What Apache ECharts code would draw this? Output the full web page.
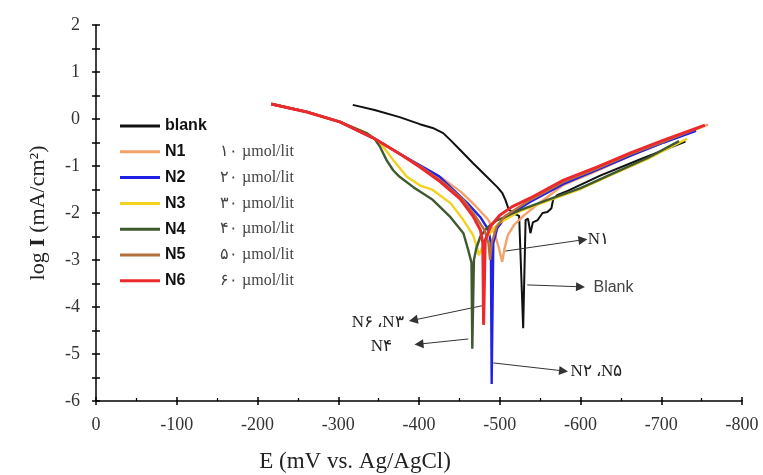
<!DOCTYPE html>
<html><head><meta charset="utf-8">
<script src="https://cdn.jsdelivr.net/npm/echarts@6/dist/echarts.min.js"></script>
<style>html,body{margin:0;padding:0;background:#fff}#c{width:763px;height:475px}</style>
</head><body><div id="c"></div>
<script>
// ---- data (E in mV vs Ag/AgCl, log I) ----
const seriesNames = ['blank', 'N1', 'N2', 'N3', 'N4', 'N5', 'N6'];
const concLabels = ['', '۱۰ µmol/lit', '۲۰ µmol/lit', '۳۰ µmol/lit', '۴۰ µmol/lit', '۵۰ µmol/lit', '۶۰ µmol/lit'];
const seriesColors = ['#111111', '#f4a26a', '#1f22e6', '#f2d21f', '#3f5a30', '#b4703c', '#ec2a2e'];

const blankData = [[-318,0.30],[-345,0.19],[-376,0.04],[-401,-0.11],[-417,-0.19],[-430,-0.30],[-439,-0.45],[-451,-0.66],[-467,-0.94],[-484,-1.23],[-497,-1.45],[-503,-1.57],[-507,-1.72],[-511,-1.92],[-518,-2.02],[-524,-2.06],[-529,-4.45],[-532,-2.15],[-535,-2.12],[-538,-2.43],[-541,-2.20],[-547,-2.15],[-553,-2.00],[-559,-1.98],[-564,-1.90],[-566,-1.72],[-571,-1.62],[-584,-1.53],[-625,-1.20],[-675,-0.85],[-730,-0.48]];
const n1Data = [[-217,0.32],[-261,0.15],[-302,-0.06],[-343,-0.40],[-377,-0.75],[-402,-1.00],[-428,-1.25],[-452,-1.55],[-470,-1.85],[-486,-2.15],[-494,-2.45],[-499,-2.75],[-503,-3.04],[-506,-2.75],[-510,-2.47],[-518,-2.25],[-530,-2.05],[-545,-1.84],[-579,-1.40],[-621,-1.10],[-662,-0.78],[-703,-0.50],[-758,-0.12]];
const n2Data = [[-217,0.32],[-261,0.15],[-302,-0.06],[-343,-0.40],[-377,-0.75],[-405,-1.02],[-425,-1.22],[-439,-1.45],[-460,-1.79],[-476,-2.09],[-486,-2.36],[-489,-2.64],[-490,-5.64],[-492,-2.64],[-497,-2.32],[-507,-2.09],[-538,-1.76],[-579,-1.38],[-621,-1.08],[-662,-0.78],[-703,-0.50],[-743,-0.25]];
const n3Data = [[-217,0.32],[-261,0.15],[-302,-0.06],[-335,-0.30],[-352,-0.51],[-368,-0.87],[-385,-1.23],[-402,-1.42],[-417,-1.51],[-439,-1.79],[-455,-2.15],[-467,-2.47],[-472,-2.74],[-474,-2.90],[-477,-2.79],[-486,-2.47],[-498,-2.23],[-525,-1.96],[-566,-1.70],[-600,-1.49],[-641,-1.17],[-683,-0.85],[-732,-0.42]];
const n4Data = [[-217,0.32],[-261,0.15],[-302,-0.06],[-335,-0.30],[-345,-0.42],[-352,-0.60],[-360,-0.88],[-368,-1.09],[-376,-1.23],[-393,-1.45],[-417,-1.72],[-439,-2.09],[-455,-2.43],[-461,-2.79],[-465,-3.06],[-466,-4.89],[-468,-3.00],[-471,-2.75],[-476,-2.50],[-484,-2.32],[-495,-2.17],[-525,-1.94],[-566,-1.68],[-600,-1.47],[-641,-1.15],[-683,-0.83],[-722,-0.47]];
const n5Data = [[-217,0.32],[-261,0.15],[-302,-0.06],[-343,-0.40],[-377,-0.75],[-403,-1.02],[-430,-1.35],[-455,-1.72],[-470,-2.07],[-481,-2.36],[-486,-2.64],[-488,-3.00],[-490,-2.64],[-496,-2.30],[-506,-2.07],[-538,-1.72],[-579,-1.34],[-621,-1.05],[-662,-0.75],[-703,-0.48],[-748,-0.18]];
const n6Data = [[-217,0.32],[-261,0.15],[-302,-0.06],[-343,-0.40],[-377,-0.75],[-401,-1.02],[-426,-1.33],[-451,-1.70],[-467,-2.07],[-476,-2.36],[-479,-2.64],[-480,-4.38],[-482,-2.58],[-489,-2.27],[-500,-2.05],[-515,-1.87],[-538,-1.68],[-579,-1.30],[-621,-1.02],[-662,-0.72],[-703,-0.45],[-754,-0.13]];
const allData = [blankData, n1Data, n2Data, n3Data, n4Data, n5Data, n6Data];

// annotations: [fromE, fromLogI, toE, toLogI, text]
const annotations = [
  [-507, -2.81, -603, -2.57, 'N۱'],
  [-534, -3.53, -600, -3.57, 'Blank'],
  [-492, -5.19, -579, -5.36, 'N۲ ،N۵'],
  [-482, -3.96, -393, -4.28, 'N۶ ،N۳'],
  [-461, -4.68, -400, -4.79, 'N۴']
];
const annotDistance = [5, 13, 7, 10, 27];

const chart = echarts.init(document.getElementById('c'), null, {renderer: 'canvas'});
const serif = 'Liberation Serif';
const axisColor = '#000';

const series = allData.map((d, i) => ({
  name: seriesNames[i],
  type: 'line',
  data: d,
  xAxisIndex: 0, yAxisIndex: 0,
  showSymbol: false,
  symbol: 'none',
  smooth: false,
  lineStyle: {color: seriesColors[i], width: i === 6 ? 3 : (i === 0 ? 2 : 2.4)},
  itemStyle: {color: seriesColors[i]},
  z: 2 + i,
  animation: false
}));

series[0].markLine = {
  silent: true,
  animation: false,
  symbol: ['none', 'triangle'],
  symbolSize: 9,
  lineStyle: {color: '#333', width: 1, type: 'solid'},
  label: {show: true, position: 'end', fontFamily: serif, fontSize: 17, color: '#222'},
  data: annotations.map((a, i) => [
    {coord: [a[0], a[1]], label: {formatter: a[4], distance: annotDistance[i],
      fontFamily: a[4] === 'Blank' ? 'Liberation Sans' : serif,
      fontSize: a[4] === 'Blank' ? 16 : 17, color: a[4] === 'Blank' ? '#444' : '#222'}},
    {coord: [a[2], a[3]]}
  ])
};

const baseX = {type: 'value', min: -800, max: 0, interval: 100, inverse: true, position: 'bottom',
  splitLine: {show: false}, minorSplitLine: {show: false}};
const baseY = {type: 'value', min: -6, max: 2, interval: 1, position: 'left',
  splitLine: {show: false}, minorSplitLine: {show: false}};

chart.setOption({
  animation: false,
  backgroundColor: '#fff',
  grid: {left: 96, right: 21, top: 25, bottom: 74, containLabel: false},
  xAxis: [
    Object.assign({}, baseX, {
      axisLine: {show: true, onZero: false, lineStyle: {color: axisColor, width: 1.5}},
      axisTick: {show: true, inside: false, length: 4, lineStyle: {color: axisColor, width: 1.5}},
      minorTick: {show: false},
      axisLabel: {show: true, margin: 15, fontFamily: serif, fontSize: 18, color: '#333'}
    }),
    Object.assign({}, baseX, {
      axisLine: {show: false, onZero: false},
      axisTick: {show: true, inside: true, length: 4, lineStyle: {color: axisColor, width: 1.5}},
      minorTick: {show: true, splitNumber: 2, length: 3, lineStyle: {color: axisColor, width: 1.2}},
      axisLabel: {show: false}
    })
  ],
  yAxis: [
    Object.assign({}, baseY, {
      axisLine: {show: true, onZero: false, lineStyle: {color: axisColor, width: 1.5}},
      axisTick: {show: true, inside: false, length: 4, lineStyle: {color: axisColor, width: 1.5}},
      minorTick: {show: true, splitNumber: 2, length: 4, lineStyle: {color: axisColor, width: 1.5}},
      axisLabel: {show: true, margin: 16, fontFamily: serif, fontSize: 18, color: '#333'},
      name: '{a|log }{b|I}{a| (mA/cm²)}',
      nameLocation: 'middle',
      nameGap: 47,
      nameRotate: 90,
      nameTextStyle: {rich: {
        a: {fontFamily: serif, fontSize: 22, color: '#222'},
        b: {fontFamily: serif, fontSize: 22, fontWeight: 'bold', color: '#222'}
      }}
    }),
    Object.assign({}, baseY, {
      axisLine: {show: false, onZero: false},
      axisTick: {show: true, inside: true, length: 4, lineStyle: {color: axisColor, width: 1.5}},
      minorTick: {show: true, splitNumber: 2, length: 4, lineStyle: {color: axisColor, width: 1.5}},
      axisLabel: {show: false}
    })
  ],
  legend: {
    data: seriesNames,
    orient: 'vertical',
    left: 120, top: 118,
    padding: 0,
    icon: 'rect',
    itemWidth: 40, itemHeight: 3,
    itemGap: 9.8, itemTextGap: 3,
    selectedMode: false,
    formatter: function (name) {
      const i = seriesNames.indexOf(name);
      return concLabels[i] ? '{n|' + name + '}{c|' + concLabels[i] + '}' : '{n|' + name + '}';
    },
    textStyle: {
      rich: {
        n: {fontFamily: 'Liberation Sans', fontWeight: 'bold', fontSize: 16, color: '#111', width: 55, lineHeight: 18},
        c: {fontFamily: serif, fontSize: 16, color: '#444', lineHeight: 18}
      }
    }
  },
  graphic: [{
    type: 'text', x: 355, y: 462,
    style: {text: 'E (mV vs. Ag/AgCl)', font: '23px "Liberation Serif"', fill: '#222',
      align: 'center', verticalAlign: 'middle'}
  }],
  series: series
});
</script>
</body></html>
